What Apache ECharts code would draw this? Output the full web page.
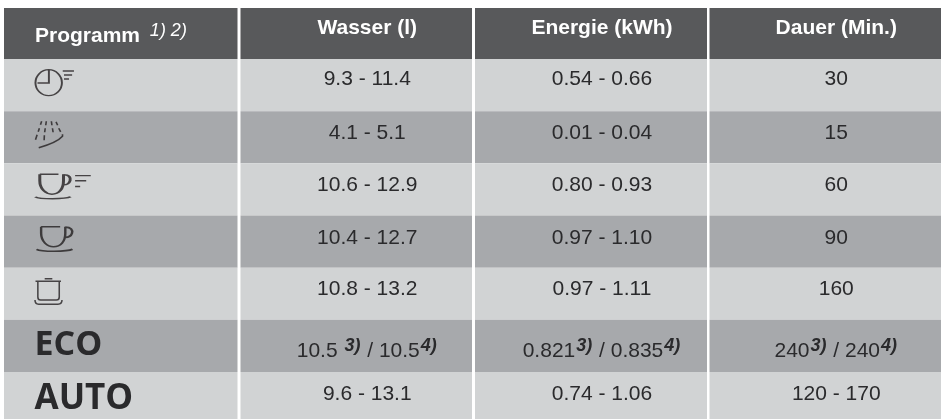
<!DOCTYPE html>
<html><head><meta charset="utf-8">
<style>html,body{margin:0;padding:0;background:#fff;overflow:hidden;height:419px}#c{width:941px;height:440px}</style>
<script src="https://cdn.jsdelivr.net/npm/echarts@6/dist/echarts.min.js"></script>
</head><body><div id="c"></div>
<script>
const rows = ['header','schnell','vorspuelen','glas_schnell','glas','intensiv','eco','auto'];
const programm = ['Programm {supW|1) 2)}','','','','','','ECO','AUTO'];
const wasser = ['Wasser (l)','9.3 - 11.4','4.1 - 5.1','10.6 - 12.9','10.4 - 12.7','10.8 - 13.2','10.5 {sup|3)} / 10.5{sup|4)}','9.6 - 13.1'];
const energie = ['Energie (kWh)','0.54 - 0.66','0.01 - 0.04','0.80 - 0.93','0.97 - 1.10','0.97 - 1.11','0.821{sup|3)} / 0.835{sup|4)}','0.74 - 1.06'];
const dauer = ['Dauer (Min.)','30','15','60','90','160','240{sup|3)} / 240{sup|4)}','120 - 170'];

const rowColors = ['#58595b','#d1d3d4','#a7a9ac','#d1d3d4','#a7a9ac','#d1d3d4','#a7a9ac','#d1d3d4'];
const rowDy = [-5,-6,-4,-4,-3.5,-5,5,-4];
const cols = [[4,233.5],[240.5,231.5],[475,232],[709.5,231.5]];
const texts = [programm,wasser,energie,dauer];

const cup = 'M5 .7H23.5M5 .7V7C5 15 11 20 17 20C24 20 28.5 15 28.5 7V.7M28.5 1C34 1 36 4 35 7C34 10 31 11 28.5 11M.5 22.5C5 25 30 25 35.5 22.5';
const icons = [
  {row:1,cx:54.7,cy:82.7,w:38.5,h:26,lw:1.6,path:'M13.7 .7V14H2.5M13.5 .7A13 13 0 1 1 .5 13.7A13 13 0 0 1 13.5 .7M27.3 2H38.3M28.5 6H36.5M28.5 10H33.5'},
  {row:2,cx:49,cy:134.5,w:27,h:26.5,lw:1.6,path:'M6.7 0L5.6 3.5M4.6 7L3.5 10.5M2.5 13.5L1 18.5M11 0L10.5 4M10 7L9.5 11M9.2 14L9 19M15.7 0L16.2 4M16.7 7L17.3 11M20 .7L21.5 4M22.5 7L24.3 10.7M4 26.5C12 24 22 20 26 15L26 13'},
  {row:3,cx:63,cy:186.5,w:55.5,h:24.5,lw:2,path:cup+'M40 2H55.5M40 7H51M40 12.5H45'},
  {row:4,cx:54.5,cy:239,w:36,h:24.5,lw:2,path:cup},
  {row:5,cx:48.5,cy:291.5,w:27,h:25.5,lw:1.5,path:'M10 .5H17.5M1 3H26M3.3 3V18Q3.3 21 6 21H21.5Q24.3 21 24.3 18V3M.5 21Q.5 25 4 25H23Q27 25 27 21'}
];

const rich = {
  sup:{fontFamily:'Liberation Sans',fontStyle:'italic',fontWeight:'bold',fontSize:18,color:'#2a2a2c',padding:[0,1,10,1]},
  supW:{fontFamily:'Liberation Sans',fontStyle:'italic',fontWeight:'normal',fontSize:18,color:'#fff',padding:[0,0,10,4]}
};

const grids=[],xAxes=[],yAxes=[],series=[];
cols.forEach((c,i)=>{
  grids.push({left:c[0],width:c[1],top:6.83,height:417.36,containLabel:false});
  xAxes.push({type:'value',gridIndex:i,min:0,max:1,show:false});
  yAxes.push({type:'category',gridIndex:i,data:rows,inverse:true,show:false});
  series.push({
    type:'bar',xAxisIndex:i,yAxisIndex:i,barWidth:'100%',silent:true,
    data:rows.map((r,k)=>{
      const big=i===0&&k>=6, head=k===0;
      return {
        value:1,name:texts[i][k],
        itemStyle:{color:rowColors[k]},
        label:{
          show:true,
          position:i===0?'insideLeft':'inside',
          distance:i===0?31:0,
          offset:i===0?[big?-0.5:0,big?(k===6?-1:1):3.5]:[11,rowDy[k]],
          formatter:texts[i][k],
          fontFamily:big?'Open Sans':'Liberation Sans',
          fontWeight:(big||head)?'bold':'normal',
          fontSize:big?(k===6?34:35):21,
          color:head?'#fff':'#2a2a2c',
          rich
        }
      };
    })
  });
});
series.push({
  type:'scatter',xAxisIndex:0,yAxisIndex:0,silent:true,z:5,
  data:icons.map(o=>({
    value:[(o.cx-cols[0][0])/cols[0][1],rows[o.row]],
    symbol:'path://'+o.path,
    symbolSize:[o.w,o.h],
    symbolOffset:[0,o.cy-(6.83+52.17*(o.row+.5))],
    itemStyle:{color:'rgba(0,0,0,0)',borderColor:'#231f20',borderWidth:o.lw}
  }))
});
const chart=echarts.init(document.getElementById('c'),null,{renderer:'canvas'});
chart.setOption({
  animation:false,backgroundColor:'#fff',
  grid:grids,xAxis:xAxes,yAxis:yAxes,series,
  graphic:[{type:'rect',shape:{x:0,y:0,width:941,height:8},style:{fill:'#fff'},z:100}]
});
</script></body></html>
